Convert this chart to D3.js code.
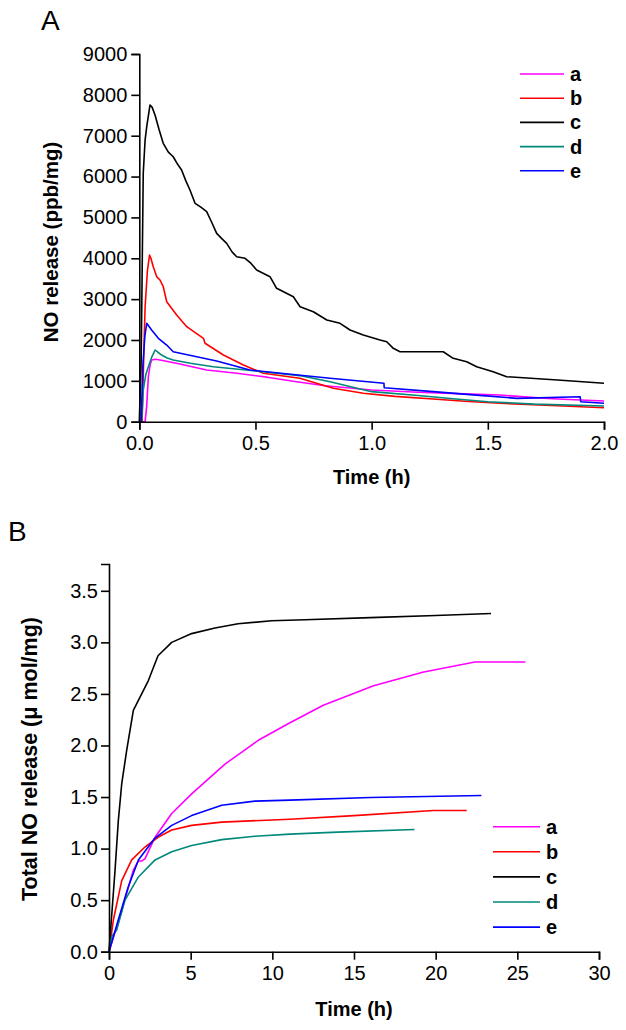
<!DOCTYPE html>
<html><head><meta charset="utf-8">
<script src="https://cdn.jsdelivr.net/npm/d3@7/dist/d3.min.js"></script>
<style>
body{margin:0;background:#fff;}
svg{display:block;}
text{font-family:"Liberation Sans",Arial,Helvetica,sans-serif;}
</style></head>
<body>
<svg id="chart" width="626" height="1030"></svg>
<script>
// ---------- Panel A data: NO release (ppb/mg) vs time (h) ----------
const seriesNames = ["a","b","c","d","e"];
const seriesColors = ["#ff00ff","#ff0000","#000000","#00897b","#0000ff"];

const tA_a = [0,0.025,0.032,0.039,0.047,0.053,0.07,0.089,0.17,0.29,0.42,0.55,0.677,0.8,1.0,1.2,1.4,1.55,1.7,1.8,1.9,2.0];
const vA_a = [0,0,400,1101,1400,1510,1530,1510,1420,1265,1184,1090,979,880,776,720,680,653,590,555,530,506];

const tA_b = [0,0.012,0.02,0.025,0.035,0.044,0.05,0.06,0.075,0.089,0.103,0.118,0.16,0.204,0.276,0.283,0.362,0.448,0.534,0.691,0.835,0.964,1.1,1.265,1.4,1.552,1.8,2.0];
const vA_b = [0,0,1800,2815,3700,4080,4000,3793,3550,3468,3304,2937,2620,2325,2041,1919,1632,1387,1184,1062,817,695,620,555,500,450,390,343];

const tA_c = [0,0.008,0.017,0.025,0.032,0.046,0.055,0.068,0.085,0.103,0.125,0.146,0.165,0.182,0.2,0.218,0.24,0.265,0.29,0.31,0.333,0.355,0.376,0.4,0.419,0.455,0.48,0.505,0.5625,0.591,0.606,0.663,0.692,0.749,0.807,0.864,0.907,0.964,1.036,1.065,1.093,1.122,1.2,1.308,1.351,1.409,1.452,1.523,1.581,1.8,2.0];
const vA_c = [0,1500,6087,6900,7220,7750,7700,7500,7150,6813,6600,6485,6300,6160,5900,5670,5345,5250,5140,4900,4610,4480,4366,4150,4038,4000,3880,3713,3549,3265,3223,3060,2815,2692,2489,2408,2244,2122,2000,1958,1796,1713,1713,1713,1551,1468,1346,1224,1101,1020,940];

const tA_d = [0,0.01,0.017,0.028,0.039,0.055,0.068,0.08,0.096,0.12,0.146,0.22,0.318,0.534,0.7,0.821,1.0,1.2,1.35,1.5,1.7,2.0];
const vA_d = [0,0,776,1150,1346,1600,1755,1700,1632,1560,1510,1430,1346,1224,1120,979,735,640,560,490,430,384];

const tA_e = [0,0.008,0.015,0.024,0.032,0.053,0.082,0.118,0.146,0.333,0.476,0.821,1.053,1.054,1.265,1.45,1.624,1.897,1.9,2.0];
const vA_e = [0,0,1346,2100,2408,2244,2041,1877,1713,1486,1265,1062,940,832,735,650,572,612,490,450];

const xTicksA = [0, 0.5, 1.0, 1.5, 2.0];
const yTicksA = [0,1000,2000,3000,4000,5000,6000,7000,8000,9000];

// ---------- Panel B data: Total NO release (umol/mg) vs time (h) ----------
const tB_a = [0,0.78,1.49,1.8,2.0,2.2,2.82,3.84,5.06,7.1,9.14,11.08,13.12,16.2,19.2,22.4,25.5];
const vB_a = [0,0.40,0.79,0.88,0.88,0.90,1.11,1.34,1.53,1.82,2.05,2.22,2.39,2.58,2.71,2.81,2.81];

const tB_b = [0,0.27,0.78,1.39,2.2,3.0,3.84,5.06,6.9,11.08,15.0,19.85,21.9];
const vB_b = [0,0.31,0.69,0.89,1.015,1.11,1.18,1.225,1.257,1.285,1.32,1.37,1.37];

const tB_c = [0,0.37,0.57,0.78,1.08,1.49,2.41,3.0,3.84,5.06,6.49,7.9,9.95,12.0,16.0,20.0,23.39];
const vB_c = [0,0.79,1.27,1.63,1.95,2.34,2.63,2.87,3.00,3.085,3.14,3.18,3.21,3.22,3.24,3.26,3.28];

const tB_d = [0,0.16,0.47,0.98,1.8,2.82,3.84,5.06,6.9,8.93,11.08,14.0,18.7];
const vB_d = [0,0.145,0.21,0.50,0.725,0.89,0.97,1.03,1.087,1.12,1.14,1.16,1.185];

const tB_e = [0,0.57,1.18,1.8,2.8,3.84,5.06,6.9,8.93,11.08,16.0,22.8];
const vB_e = [0,0.31,0.63,0.89,1.10,1.225,1.32,1.42,1.46,1.47,1.495,1.515];

const xTicksB = [0,5,10,15,20,25,30];
const yTicksB = [0,0.5,1.0,1.5,2.0,2.5,3.0,3.5];

// ---------- drawing ----------
const svg = d3.select("#chart");
const zip = (t,v) => t.map((x,i)=>[x,v[i]]);

function panel(cfg){
  const g = svg.append("g");
  const x = d3.scaleLinear().domain(cfg.xDomain).range([cfg.left, cfg.right]);
  const y = d3.scaleLinear().domain(cfg.yDomain).range([cfg.bottom, cfg.top]);

  const line = d3.line().x(d=>x(d[0])).y(d=>y(d[1]));
  cfg.series.forEach((s,i)=>{
    g.append("path").datum(s).attr("d", line)
      .attr("fill","none").attr("stroke", seriesColors[i])
      .attr("stroke-width",1.6).attr("stroke-linejoin","round");
  });

  const xAxis = g.append("g").attr("transform",`translate(0,${cfg.bottom})`)
    .call(d3.axisBottom(x).tickValues(cfg.xTicks).tickSize(8).tickPadding(6).tickFormat(cfg.xFmt));
  const yAxis = g.append("g").attr("transform",`translate(${cfg.left},0)`)
    .call(d3.axisLeft(y).tickValues(cfg.yTicks).tickSize(8).tickPadding(cfg.yPad).tickFormat(cfg.yFmt));
  [xAxis,yAxis].forEach(a=>{
    a.select(".domain").attr("stroke","#000").attr("stroke-width",1.6);
    a.selectAll(".tick line").attr("stroke","#000").attr("stroke-width",1.6);
    a.selectAll(".tick text").attr("fill","#000").style("font-size","20px")
      .style("font-family",'"Liberation Sans",Arial,sans-serif');
  });

  // axis titles
  g.append("text").attr("x",(cfg.left+cfg.right)/2).attr("y",cfg.xTitleY)
    .attr("text-anchor","middle").style("font-weight","bold").style("font-size","20px")
    .text("Time (h)");
  g.append("text").attr("transform",`translate(${cfg.yTitleX},${cfg.yTitleCY}) rotate(-90)`)
    .attr("text-anchor","middle").attr("dominant-baseline","central")
    .style("font-weight","bold").style("font-size",cfg.yTitleSize)
    .text(cfg.yTitle);

  // panel letter
  g.append("text").attr("x",cfg.letterX).attr("y",cfg.letterY)
    .style("font-size","28px").text(cfg.letter);

  // legend
  const lg = g.append("g");
  seriesNames.forEach((n,i)=>{
    const yy = cfg.legY + i*cfg.legStep;
    lg.append("line").attr("x1",cfg.legX1).attr("x2",cfg.legX2).attr("y1",yy).attr("y2",yy)
      .attr("stroke",seriesColors[i]).attr("stroke-width",1.6);
    lg.append("text").attr("x",cfg.legX2+6).attr("y",yy+7)
      .style("font-weight","bold").style("font-size","20px").text(n);
  });
}

panel({
  xDomain:[0,2], yDomain:[0,9000],
  left:139.3, right:604, top:54, bottom:421.7,
  series:[zip(tA_a,vA_a),zip(tA_b,vA_b),zip(tA_c,vA_c),zip(tA_d,vA_d),zip(tA_e,vA_e)],
  xTicks:xTicksA, yTicks:yTicksA, xFmt:d3.format(".1f"), yFmt:d3.format("d"), yPad:4,
  xTitleY:484, yTitleX:50, yTitleCY:242, yTitleSize:"20.5px",
  yTitle:"NO release (ppb/mg)",
  letter:"A", letterX:41, letterY:30,
  legX1:520, legX2:564, legY:74, legStep:24.2
});

panel({
  xDomain:[0,30], yDomain:[0,3.76],
  left:109, right:599, top:564, bottom:951.7,
  series:[zip(tB_a,vB_a),zip(tB_b,vB_b),zip(tB_c,vB_c),zip(tB_d,vB_d),zip(tB_e,vB_e)],
  xTicks:xTicksB, yTicks:yTicksB, xFmt:d3.format("d"), yFmt:d3.format(".1f"), yPad:3,
  xTitleY:1016, yTitleX:30, yTitleCY:759, yTitleSize:"21.5px",
  yTitle:"Total NO release (\u03bc mol/mg)",
  letter:"B", letterX:8, letterY:541,
  legX1:493, legX2:540, legY:826.7, legStep:25.1
});
</script>
</body></html>
